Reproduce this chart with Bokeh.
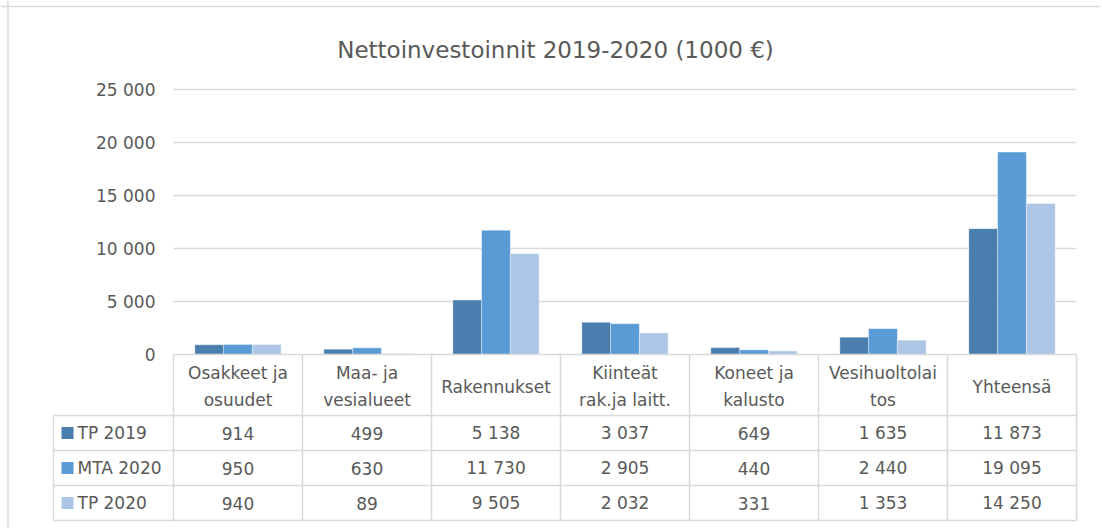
from bokeh.plotting import figure
from bokeh.models import Span
from bokeh.core.properties import value
from bokeh.embed import file_html
from bokeh.resources import INLINE

# ---------------- data ----------------
categories = ["Osakkeet ja\nosuudet", "Maa- ja\nvesialueet", "Rakennukset",
              "Kiinteät\nrak.ja laitt.", "Koneet ja\nkalusto", "Vesihuoltolai\ntos", "Yhteensä"]
series_names = ["TP 2019", "MTA 2020", "TP 2020"]
tp2019 = [914, 499, 5138, 3037, 649, 1635, 11873]
mta2020 = [950, 630, 11730, 2905, 440, 2440, 19095]
tp2020 = [940, 89, 9505, 2032, 331, 1353, 14250]
y_ticks = [0, 5000, 10000, 15000, 20000, 25000]
y_tick_labels = ["0", "5 000", "10 000", "15 000", "20 000", "25 000"]
title_text = "Nettoinvestoinnit 2019-2020 (1000 €)"

# ---------------- style / layout ----------------
colors = ["#4a7eae", "#5b9bd5", "#adc6e5"]
TEXT = "#595959"
LINE = "#d9d9d9"
FONT = value("DejaVu Sans")
W, H = 1100, 527
PX_X = 129.0            # pixels per category column
UPP = 25000 / 265.0     # value units per pixel
LEFT_PX = 173           # px of first column edge
ZERO_PX = 354           # px of value 0


def dx(px):
    return (px - LEFT_PX) / PX_X


def dy(px):
    return (ZERO_PX - px) * UPP


n = len(categories)
series = [tp2019, mta2020, tp2020]

p = figure(width=W, height=H, output_backend="svg", toolbar_location=None,
           x_range=(dx(0), dx(W)), y_range=(dy(H), dy(0)),
           x_axis_location=None, y_axis_location=None, min_border=0,
           background_fill_color="white", border_fill_color="white")
p.outline_line_color = None
p.grid.visible = False

# outer chart border (left / top visible)
p.add_layout(Span(location=dx(7.5), dimension="height", line_color=LINE, line_width=1.5))
p.add_layout(Span(location=dy(6), dimension="width", line_color=LINE, line_width=1.5))

# title
p.text(x=[dx(555)], y=[dy(49)], text=[title_text], text_font=FONT,
       text_font_size="23px", text_color=TEXT, text_align="center",
       text_baseline="alphabetic")

# gridlines
gl = y_ticks[1:]
p.segment(x0=[0] * len(gl), x1=[n] * len(gl), y0=gl, y1=gl, line_color=LINE, line_width=1.5)

# y tick labels
p.text(x=[dx(155)] * len(y_ticks), y=y_ticks, text=y_tick_labels, text_font=FONT,
       text_font_size="17px", text_color=TEXT, text_align="right", text_baseline="middle")

# bars
bw = 0.223
offsets = [-bw, 0.0, bw]
for vals, c, off in zip(series, colors, offsets):
    xs = [i + 0.5 + off for i in range(n)]
    p.vbar(x=xs, top=vals, bottom=0, width=bw, fill_color=c,
           line_color="white", line_alpha=0.35, line_width=1)

# data table
row_edges = [dy(415), dy(450), dy(485), dy(520)]
row_centers = [dy(432.5), dy(467.5), dy(502.5)]
leg_left = dx(53)
# horizontal lines
p.segment(x0=[0], x1=[n], y0=[0], y1=[0], line_color=LINE, line_width=1.5)
p.segment(x0=[leg_left] * 4, x1=[n] * 4, y0=row_edges, y1=row_edges,
          line_color=LINE, line_width=1.5)
# vertical lines
p.segment(x0=list(range(n + 1)), x1=list(range(n + 1)), y0=[0] * (n + 1),
          y1=[row_edges[-1]] * (n + 1), line_color=LINE, line_width=1.5)
p.segment(x0=[leg_left], x1=[leg_left], y0=[row_edges[0]], y1=[row_edges[-1]],
          line_color=LINE, line_width=1.5)

# category labels
p.text(x=[i + 0.5 for i in range(n)], y=[dy(386)] * n, text=categories, text_font=FONT,
       text_font_size="17px", text_color=TEXT, text_align="center",
       text_baseline="middle", text_line_height=1.35)

# legend keys and names
p.scatter(x=[dx(67)] * 3, y=row_centers, marker="square", size=12,
          fill_color=colors, line_color=None)
p.text(x=[dx(77)] * 3, y=row_centers, text=series_names, text_font=FONT,
       text_font_size="17px", text_color=TEXT, text_align="left", text_baseline="middle")


def fmt(v):
    return f"{v:,}".replace(",", " ")


for vals, yc in zip(series, row_centers):
    p.text(x=[i + 0.5 for i in range(n)], y=[yc] * n, text=[fmt(v) for v in vals],
           text_font=FONT, text_font_size="17px", text_color=TEXT,
           text_align="center", text_baseline="middle")

open("out.html", "w").write(file_html(p, INLINE))
